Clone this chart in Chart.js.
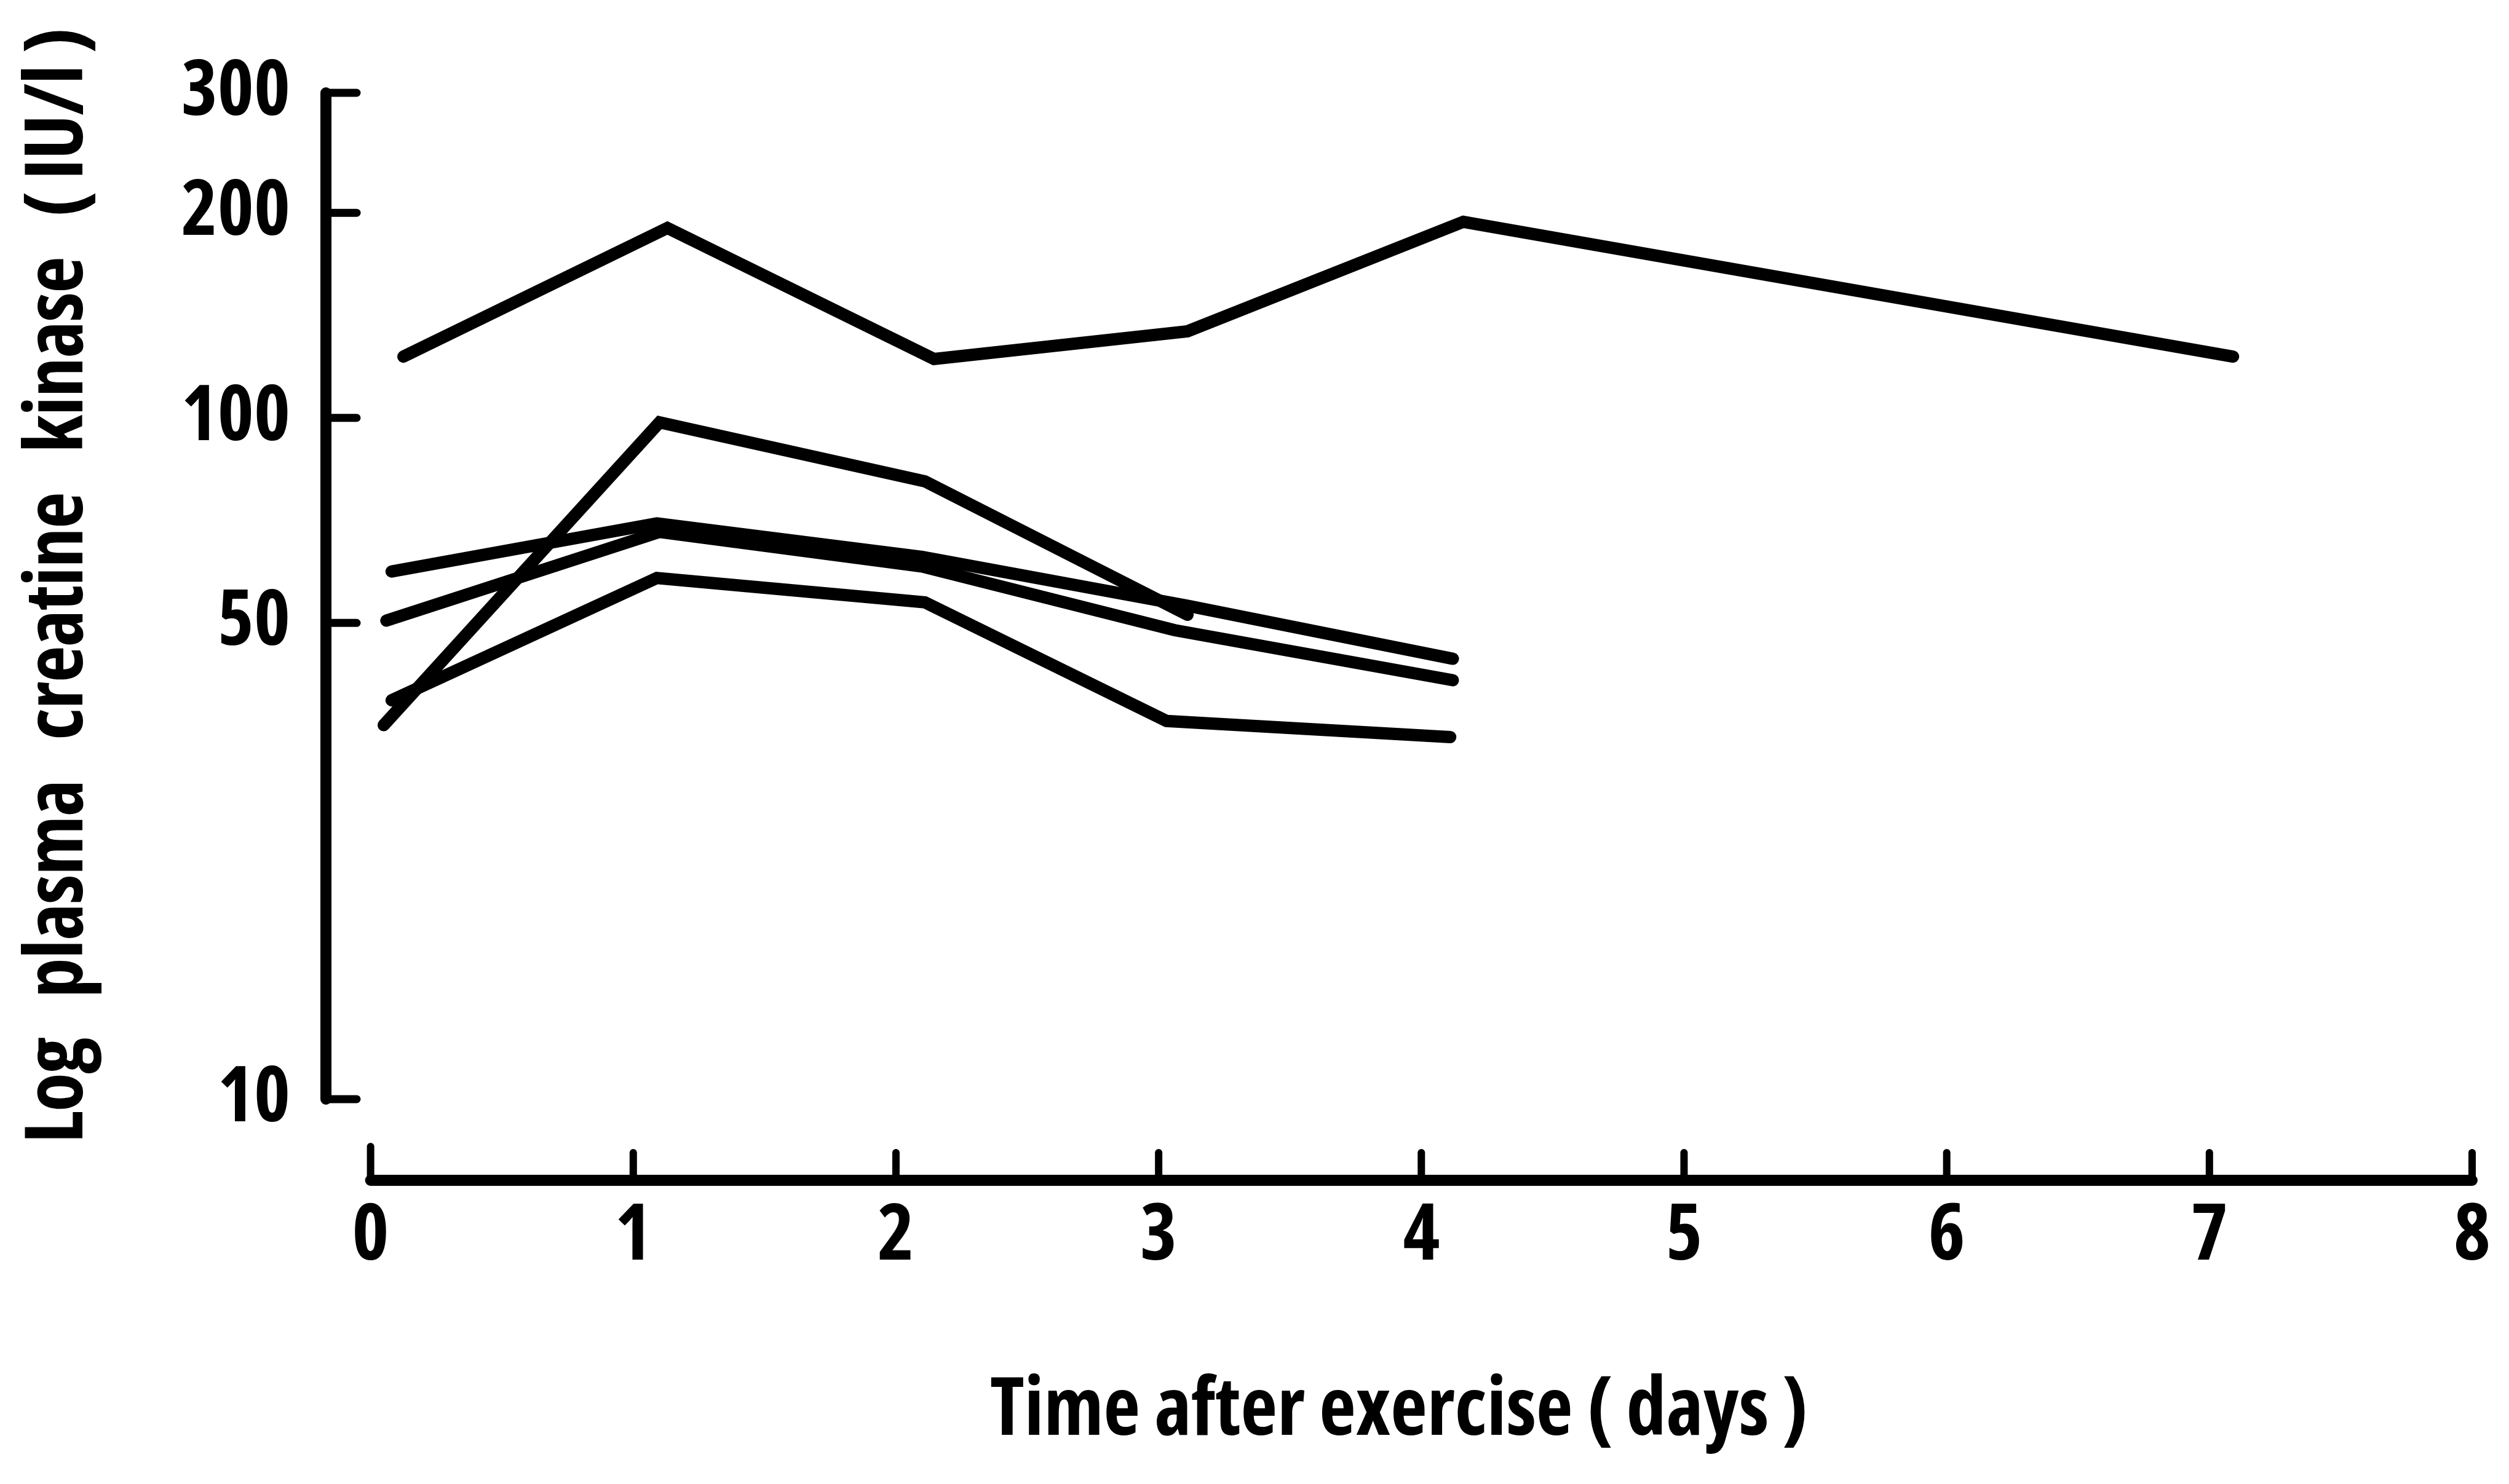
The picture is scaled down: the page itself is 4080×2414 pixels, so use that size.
<!DOCTYPE html>
<html>
<head>
<meta charset="utf-8">
<script src="https://cdn.jsdelivr.net/npm/chart.js@4.4.1/dist/chart.umd.min.js"></script>
<style>
  html, body { margin: 0; padding: 0; background: #ffffff; }
  #wrap { width: 4080px; height: 2414px; position: relative; }
</style>
</head>
<body>
<div id="wrap"><canvas id="ckChart"></canvas></div>
<script>
// Plasma creatine kinase (IU/l) against days after exercise, one line per subject
const subject1Days = [0.125, 1.13, 2.145, 3.11, 4.16, 7.09];
const subject1CK   = [123, 190, 122, 134, 194, 123];

const subject2Days = [0.05, 1.10, 2.11, 3.11];
const subject2CK   = [35.4, 98.5, 80.7, 51.4];

const subject3Days = [0.08, 1.09, 2.10, 3.11, 4.12];
const subject3CK   = [59.5, 70, 62.5, 53, 44.3];

const subject4Days = [0.06, 1.10, 2.10, 3.06, 4.12];
const subject4CK   = [50.4, 68, 60.5, 48.8, 41.2];

const subject5Days = [0.08, 1.09, 2.11, 3.03, 4.11];
const subject5CK   = [38.5, 58.2, 53.6, 35.9, 34.0];

const yTickValues = [10, 50, 100, 200, 300];
const xTickValues = [0, 1, 2, 3, 4, 5, 6, 7, 8];

const xTitle = 'Time after exercise ( days )';
const yTitle = 'Log   plasma   creatine   kinase   ( IU/l )';

const FONT_FAMILY = "'Open Sans', 'DejaVu Sans', sans-serif";
const FONT_WEIGHT = 'bold condensed';

function toPoints(days, values) {
  return days.map((d, i) => ({ x: d, y: values[i] }));
}

const subjects = [
  [subject1Days, subject1CK],
  [subject2Days, subject2CK],
  [subject3Days, subject3CK],
  [subject4Days, subject4CK],
  [subject5Days, subject5CK]
];

// Axis lines with inward tick marks, plus the rotated y-axis title
const inkAxes = {
  id: 'inkAxes',
  afterDraw(chart) {
    const { ctx } = chart;
    const xs = chart.scales.x;
    const ys = chart.scales.y;
    ctx.save();
    ctx.strokeStyle = '#000';
    ctx.fillStyle = '#000';
    ctx.lineCap = 'round';

    // vertical axis: from the top tick down to the lowest tick
    const axisX = xs.getPixelForValue(xs.min);
    const yTop = ys.getPixelForValue(yTickValues[yTickValues.length - 1]);
    const yBottom = ys.getPixelForValue(yTickValues[0]);
    ctx.lineWidth = 18;
    ctx.beginPath();
    ctx.moveTo(axisX, yTop);
    ctx.lineTo(axisX, yBottom);
    ctx.stroke();
    ctx.lineWidth = 13;
    yTickValues.forEach(v => {
      const py = ys.getPixelForValue(v);
      ctx.beginPath();
      ctx.moveTo(axisX, py);
      ctx.lineTo(axisX + 50, py);
      ctx.stroke();
    });

    // horizontal axis: from day 0 to day 8, ticks pointing up
    const axisY = ys.getPixelForValue(ys.min);
    const xLeft = xs.getPixelForValue(xTickValues[0]);
    const xRight = xs.getPixelForValue(xTickValues[xTickValues.length - 1]);
    ctx.lineWidth = 18;
    ctx.beginPath();
    ctx.moveTo(xLeft, axisY);
    ctx.lineTo(xRight, axisY);
    ctx.stroke();
    ctx.lineWidth = 12;
    xTickValues.forEach((v, i) => {
      const px = xs.getPixelForValue(v);
      ctx.beginPath();
      ctx.moveTo(px, axisY);
      ctx.lineTo(px, axisY - (i === 0 ? 55 : 45));
      ctx.stroke();
    });

    // y-axis title, reading bottom to top, spread over its lettered length
    ctx.font = FONT_WEIGHT + ' 130px ' + FONT_FAMILY;
    const natural = ctx.measureText(yTitle).width;
    const spread = (1817 - natural) / (yTitle.length - 1);
    ctx.letterSpacing = spread.toFixed(1) + 'px';
    ctx.translate(134, 953);
    ctx.rotate(-Math.PI / 2);
    ctx.textAlign = 'center';
    ctx.textBaseline = 'alphabetic';
    ctx.fillText(yTitle, 0, 0);
    ctx.restore();
  }
};

new Chart(document.getElementById('ckChart'), {
  type: 'line',
  data: {
    datasets: subjects.map(([days, ck]) => ({
      data: toPoints(days, ck),
      borderColor: '#000',
      borderWidth: 20,
      borderCapStyle: 'round',
      borderJoinStyle: 'miter',
      pointRadius: 0,
      tension: 0,
      fill: false
    }))
  },
  options: {
    responsive: true,
    maintainAspectRatio: false,
    animation: false,
    devicePixelRatio: 1,
    layout: { padding: { top: 151, right: 60, left: 0, bottom: 0 } },
    plugins: { legend: { display: false }, tooltip: { enabled: false } },
    scales: {
      x: {
        type: 'linear',
        min: -0.17,
        max: 8,
        afterBuildTicks: s => { s.ticks = xTickValues.map(v => ({ value: v })); },
        afterFit: s => { s.height = 494; },
        grid: { display: false, drawTicks: false },
        border: { display: false },
        ticks: {
          autoSkip: false,
          maxRotation: 0,
          padding: 16,
          color: '#000',
          font: { family: FONT_FAMILY, size: 128, weight: FONT_WEIGHT },
          callback: v => String(v)
        },
        title: {
          display: true,
          text: xTitle,
          color: '#000',
          font: { family: FONT_FAMILY, size: 130, weight: FONT_WEIGHT },
          padding: { top: 0, bottom: 39 }
        }
      },
      y: {
        type: 'logarithmic',
        min: 7.6,
        max: 300,
        afterBuildTicks: s => { s.ticks = yTickValues.map(v => ({ value: v })); },
        afterFit: s => { s.width = 530; },
        grid: { display: false, drawTicks: false },
        border: { display: false },
        ticks: {
          padding: 58,
          color: '#000',
          font: { family: FONT_FAMILY, size: 126, weight: FONT_WEIGHT },
          callback: v => String(v)
        },
        title: { display: false }
      }
    }
  },
  plugins: [inkAxes]
});
</script>
</body>
</html>
